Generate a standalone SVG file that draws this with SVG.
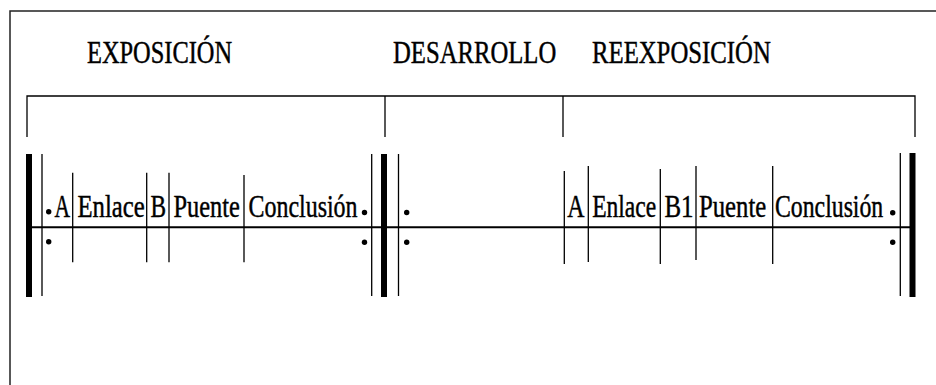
<svg xmlns="http://www.w3.org/2000/svg" width="936" height="385" viewBox="0 0 936 385">
  <style>
    .frame { stroke: #222; stroke-width: 1.5; fill: none; }
    .thin { stroke: #000; stroke-width: 1.3; fill: none; }
    .thick { stroke: #000; stroke-width: 6; fill: none; }
    .staff { stroke: #000; stroke-width: 2; fill: none; }
    text { font-family: "Liberation Serif", "Times New Roman", serif; font-size: 31px; fill: #000; stroke: #000; stroke-width: 0.45; }
    .dot { fill: #000; }
  </style>
  <rect width="936" height="385" fill="#fff"/>

  <!-- outer frame (left and top edges) -->
  <path class="frame" d="M10,385 V11 H936"/>

  <!-- section titles (condensed serif) -->
  <g id="titles">
    <text transform="translate(87,63) scale(0.79,1)" textLength="183.7" lengthAdjust="spacingAndGlyphs">EXPOSICIÓN</text>
    <text transform="translate(393,63) scale(0.79,1)" textLength="206.6" lengthAdjust="spacingAndGlyphs">DESARROLLO</text>
    <text transform="translate(592,63) scale(0.79,1)" textLength="226.3" lengthAdjust="spacingAndGlyphs">REEXPOSICIÓN</text>
  </g>

  <!-- connectors: brackets, staff line -->
  <g id="connectors">
    <path class="thin" d="M27,137 V96 H915 V137"/>
    <path class="thin" d="M385,96 V137 M563,96 V137"/>
    <path class="staff" d="M29,227.3 H913"/>
  </g>

  <!-- repeat barlines -->
  <g id="barlines">
    <path class="thick" d="M29,154 V297 M384,154 V297 M912.5,153 V297"/>
    <path class="thin" d="M42,154 V296 M371.7,154 V296 M398.5,154 V296 M900.3,153 V296"/>
    <circle class="dot" cx="48.7" cy="211.7" r="2.7"/>
    <circle class="dot" cx="48.7" cy="241.7" r="2.7"/>
    <circle class="dot" cx="364.5" cy="212.5" r="2.7"/>
    <circle class="dot" cx="364.5" cy="242.3" r="2.7"/>
    <circle class="dot" cx="406.7" cy="212.5" r="2.7"/>
    <circle class="dot" cx="406.7" cy="242.3" r="2.7"/>
    <circle class="dot" cx="892.7" cy="212.7" r="2.7"/>
    <circle class="dot" cx="892.7" cy="242.3" r="2.7"/>
  </g>

  <!-- exposition sections -->
  <g id="exposicion">
    <path class="thin" d="M72.7,172.7 V262.3 M146.7,172.7 V262.3 M169,172.7 V262.3 M244,175 V262.3"/>
    <text transform="translate(54.5,217) scale(0.79,1)" textLength="19.7" lengthAdjust="spacingAndGlyphs">A</text>
    <text transform="translate(77.5,217) scale(0.79,1)" textLength="85.1" lengthAdjust="spacingAndGlyphs">Enlace</text>
    <text transform="translate(150.5,217) scale(0.79,1)" textLength="19.7" lengthAdjust="spacingAndGlyphs">B</text>
    <text transform="translate(173.5,217) scale(0.79,1)" textLength="84" lengthAdjust="spacingAndGlyphs">Puente</text>
    <text transform="translate(248.5,217) scale(0.79,1)" textLength="138" lengthAdjust="spacingAndGlyphs">Conclusión</text>
  </g>

  <!-- recapitulation sections -->
  <g id="reexposicion">
    <path class="thin" d="M564.3,171 V264 M588.3,166 V262 M660.3,169 V264 M696,166 V260 M772.7,166 V264"/>
    <text transform="translate(567.2,217) scale(0.79,1)" textLength="21.8" lengthAdjust="spacingAndGlyphs">A</text>
    <text transform="translate(592.2,217) scale(0.79,1)" textLength="81" lengthAdjust="spacingAndGlyphs">Enlace</text>
    <text transform="translate(664.5,217) scale(0.79,1)" textLength="36.8" lengthAdjust="spacingAndGlyphs">B1</text>
    <text transform="translate(699,217) scale(0.79,1)" textLength="85.1" lengthAdjust="spacingAndGlyphs">Puente</text>
    <text transform="translate(775,217) scale(0.79,1)" textLength="137" lengthAdjust="spacingAndGlyphs">Conclusión</text>
  </g>
</svg>
